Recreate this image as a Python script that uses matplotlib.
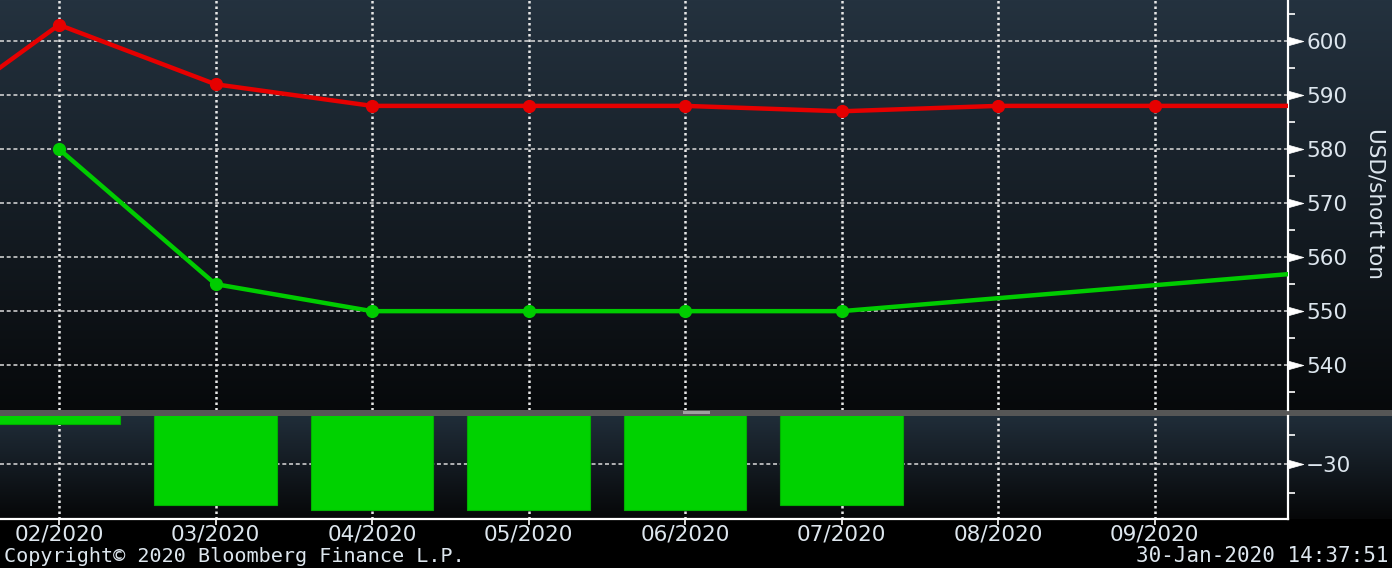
import numpy as np
import matplotlib
matplotlib.use('Agg')
import matplotlib.pyplot as plt
from matplotlib.path import Path
from matplotlib.patches import Rectangle

# contract months shown on the axis
month_labels = ['02/2020', '03/2020', '04/2020', '05/2020',
                '06/2020', '07/2020', '08/2020', '09/2020']
month_pos = list(range(len(month_labels)))

# red curve (index -1 = 01/2020, index 8 = 10/2020)
red_x = [-1, 0, 1, 2, 3, 4, 5, 6, 7, 8]
red_vals = [582, 603, 592, 588, 588, 588, 587, 588, 588, 588]

# green curve, last point lies beyond the visible range
green_x = [0, 1, 2, 3, 4, 5, 10]
green_vals = [580, 555, 550, 550, 550, 550, 562]

# spread bars (green - red)
spread_x = [0, 1, 2, 3, 4, 5]
spread_vals = [-23, -37, -38, -38, -38, -37]

W, H = 1392, 568
fig = plt.figure(figsize=(W / 100, H / 100), dpi=100, facecolor='black')

txt_col = '#dde6ee'
RED = '#e60000'
GREEN = '#00cc00'


def gradient_bg(rect, top, bottom):
    bg = fig.add_axes(rect, zorder=-5)
    c1 = np.array(matplotlib.colors.to_rgb(top))
    c2 = np.array(matplotlib.colors.to_rgb(bottom))
    t = np.linspace(0, 1, 256)[:, None]
    img = (c1 * (1 - t) + c2 * t)[:, None, :]
    bg.imshow(img, aspect='auto', extent=[0, 1, 0, 1])
    bg.set_axis_off()


# backgrounds
gradient_bg([0, (H - 410) / H, 1, 410 / H], '#24323f', '#07090b')
gradient_bg([0, (H - 519) / H, 1, (519 - 416) / H], '#202d39', '#060708')
fig.patches.append(Rectangle((0, (H - 416) / H), 1, 6 / H, transform=fig.transFigure,
                             facecolor='#565656', edgecolor='none', zorder=-4))
fig.patches.append(Rectangle((683 / W, (H - 414) / H), 27 / W, 3 / H, transform=fig.transFigure,
                             facecolor='#a0a0a0', edgecolor='none', zorder=-3))

ax_w = 1288 / W
ax1 = fig.add_axes([0, (H - 410) / H, ax_w, 410 / H])
ax2 = fig.add_axes([0, (H - 519) / H, ax_w, (519 - 416) / H])

xlim = (-0.377, 7.853)
tri = Path([(0, -0.28), (0, 0.28), (1, 0), (0, -0.28)],
           [Path.MOVETO, Path.LINETO, Path.LINETO, Path.CLOSEPOLY])

for ax in (ax1, ax2):
    ax.set_facecolor('none')
    ax.set_xlim(*xlim)
    ax.set_axisbelow(True)
    for s in ('left', 'top'):
        ax.spines[s].set_visible(False)
    ax.spines['right'].set_color('white')
    ax.spines['right'].set_linewidth(1.6)
    ax.yaxis.tick_right()
    ax.set_xticks(month_pos)
    ax.xaxis.grid(True, linestyle=(0, (1, 1.2)), linewidth=1.8, color='#e8e8e8')
    ax.yaxis.grid(True, linestyle=(0, (2.6, 1.8)), linewidth=1.1, color='#dcdcdc')

# top panel
ax1.spines['bottom'].set_visible(False)
ax1.set_ylim(531.7, 607.6)
ax1.set_yticks(np.arange(540, 601, 10))
ax1.set_yticks(np.arange(535, 606, 10), minor=True)
ax1.tick_params(axis='x', length=0, labelbottom=False)

ax1.plot(red_x, red_vals, color=RED, lw=3.2, marker='o', ms=8.5, zorder=3)
ax1.plot(green_x, green_vals, color=GREEN, lw=3.2, marker='o', ms=8.5,
         markevery=list(range(6)), zorder=3)

fig.text(1376 / W, (H - 203) / H, 'USD/short ton', rotation=270, color=txt_col,
         fontsize=15.5, ha='center', va='center')

# bottom panel
ax2.spines['bottom'].set_color('white')
ax2.spines['bottom'].set_linewidth(1.6)
ax2.set_ylim(-39.5, -21.7)
ax2.set_yticks([-30])
ax2.set_yticklabels(['\u221230'])
ax2.set_yticks([-35, -25], minor=True)
ax2.bar(spread_x, spread_vals, width=0.78, color='#00d200', edgecolor='#00b000',
        linewidth=0.8, zorder=3)
ax2.set_xticklabels(month_labels)
ax2.tick_params(axis='x', length=4, width=1.2, color='white', colors=txt_col,
                labelsize=15.5, pad=0.3)

for ax in (ax1, ax2):
    ax.tick_params(axis='y', which='major', length=10, width=1, colors=txt_col,
                   labelsize=15.5, pad=3)
    ax.tick_params(axis='y', which='minor', length=5, width=1.2, color='white')
    for t in ax.yaxis.get_major_ticks():
        t.tick2line.set_marker(tri)
        t.tick2line.set_markersize(22)
        t.tick2line.set_markerfacecolor('white')
        t.tick2line.set_markeredgecolor('white')
        t.tick2line.set_markeredgewidth(0.5)

mono = 'DejaVu Sans Mono'
fig.text(4 / W, (H - 556) / H, 'Copyright\u00a9 2020 Bloomberg Finance L.P.',
         color=txt_col, fontsize=14.5, family=mono, ha='left', va='center')
fig.text(1388 / W, (H - 556) / H, '30-Jan-2020 14:37:51',
         color=txt_col, fontsize=15, family=mono, ha='right', va='center')

fig.savefig('out.png', dpi=100, facecolor='black')
